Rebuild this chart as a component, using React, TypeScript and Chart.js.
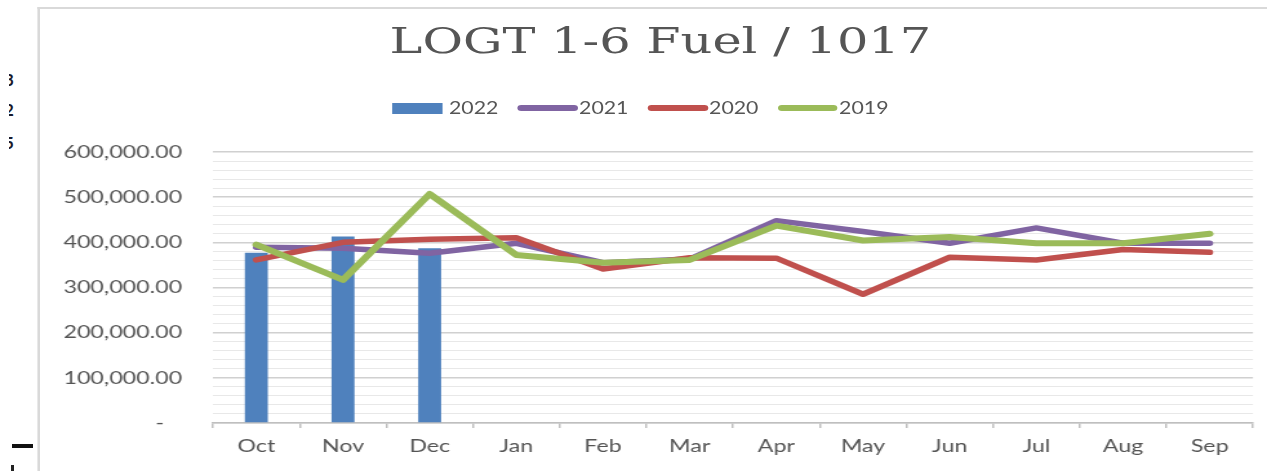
import React, { useEffect, useRef } from "react";
import { Chart, registerables } from "chart.js";

Chart.register(...registerables);

const months = ["Oct", "Nov", "Dec", "Jan", "Feb", "Mar", "Apr", "May", "Jun", "Jul", "Aug", "Sep"];
const fuel2022 = [377000, 413000, 387000, null, null, null, null, null, null, null, null, null];
const fuel2021 = [389000, 387000, 376000, 398000, 355000, 363000, 448000, 424000, 398000, 432000, 398000, 398000];
const fuel2020 = [361000, 400000, 407000, 410000, 341000, 366000, 365000, 285000, 367000, 361000, 384000, 378000];
const fuel2019 = [395000, 317000, 507000, 372000, 355000, 361000, 437000, 404000, 412000, 398000, 398000, 419000];
const seriesNames = ["2022", "2021", "2020", "2019"];
const yTickValues = [0, 100000, 200000, 300000, 400000, 500000, 600000];

const COLORS = { c2022: "#4f81bd", c2021: "#8064a2", c2020: "#c0504d", c2019: "#9bbb59" };
const W = 982;
const S = 1267 / W;
const FONT = "Lato, 'Open Sans', sans-serif";

function fmt(v: number) {
  return v.toLocaleString("en-US", { minimumFractionDigits: 2, maximumFractionDigits: 2 });
}

export default function App() {
  const ref = useRef<HTMLCanvasElement | null>(null);

  useEffect(() => {
    if (!ref.current) return;
    const lineBase = {
      type: "line",
      pointRadius: 0,
      tension: 0,
      borderCapStyle: "round",
      borderJoinStyle: "round",
    };
    const chart = new Chart(ref.current, {
      type: "bar",
      data: {
        labels: months,
        datasets: [
          {
            type: "bar",
            label: seriesNames[0],
            data: fuel2022 as any,
            backgroundColor: COLORS.c2022,
            barPercentage: 0.265,
            categoryPercentage: 1,
            order: 4,
          },
          {
            ...lineBase,
            label: seriesNames[1],
            data: fuel2021,
            borderColor: COLORS.c2021,
            backgroundColor: COLORS.c2021,
            borderWidth: 5.5,
            order: 3,
          },
          {
            ...lineBase,
            label: seriesNames[2],
            data: fuel2020,
            borderColor: COLORS.c2020,
            backgroundColor: COLORS.c2020,
            borderWidth: 5.5,
            order: 2,
          },
          {
            ...lineBase,
            label: seriesNames[3],
            data: fuel2019,
            borderColor: COLORS.c2019,
            backgroundColor: COLORS.c2019,
            borderWidth: 6,
            order: 1,
          },
        ] as any,
      },
      options: {
        responsive: false,
        animation: false,
        devicePixelRatio: 1,
        layout: { padding: { top: 152, right: W - 1253 / S, left: 0, bottom: 0 } },
        plugins: {
          legend: { display: false },
          title: { display: false },
          tooltip: { enabled: false },
        },
        scales: {
          x: {
            grid: {
              drawOnChartArea: false,
              drawTicks: true,
              tickLength: 5,
              color: "#bfbfbf",
              lineWidth: 1.5,
              offset: true,
            },
            border: { color: "#bfbfbf", width: 1.5 },
            ticks: {
              color: "#555555",
              font: { family: FONT, size: 18 },
              padding: 7,
              maxRotation: 0,
              autoSkip: false,
            },
            afterFit: (s: any) => {
              s.height = 48;
            },
          },
          y: {
            min: 0,
            max: 600000,
            grid: {
              drawTicks: false,
              color: (c: any) => (c.tick && c.tick.value % 100000 === 0 ? "#d0d0d0" : "#e8e8e8"),
              lineWidth: (c: any) => (c.tick && c.tick.value % 100000 === 0 ? 1.6 : 1),
            },
            border: { display: false },
            ticks: {
              stepSize: 20000,
              autoSkip: false,
              padding: 24,
              color: "#555555",
              font: { family: FONT, size: 18 },
              callback: (v: any) => {
                const n = Number(v);
                if (n === 0) return "-   ";
                return yTickValues.includes(n) ? fmt(n) : "";
              },
            },
            afterFit: (s: any) => {
              s.width = 213 / S;
            },
          },
        },
      } as any,
    });
    return () => chart.destroy();
  }, []);

  const legendItems = [
    { name: seriesNames[0], color: COLORS.c2022, kind: "bar" },
    { name: seriesNames[1], color: COLORS.c2021, kind: "line" },
    { name: seriesNames[2], color: COLORS.c2020, kind: "line" },
    { name: seriesNames[3], color: COLORS.c2019, kind: "line" },
  ];

  const fragStyle: React.CSSProperties = {
    position: "absolute",
    width: 6,
    height: 20,
    overflow: "hidden",
    fontFamily: FONT,
    fontWeight: 700,
    fontSize: 17,
    lineHeight: "20px",
    color: "#1a1a2a",
  };

  return (
    <div style={{ position: "absolute", left: 0, top: 0, width: 1267, height: 471, overflow: "hidden", background: "#fff" }}>
      {/* cropped artifacts on the left */}
      <div style={{ ...fragStyle, left: 9, top: 70 }}>
        <span style={{ position: "absolute", left: -5, top: 0 }}>3</span>
      </div>
      <div style={{ ...fragStyle, left: 9, top: 100 }}>
        <span style={{ position: "absolute", left: -5, top: 0 }}>2</span>
      </div>
      <div style={{ ...fragStyle, left: 9, top: 133 }}>
        <span style={{ position: "absolute", left: -5, top: 0 }}>5</span>
      </div>
      <div style={{ position: "absolute", left: 12, top: 444, width: 21, height: 4, background: "#111" }} />
      <div style={{ position: "absolute", left: 11, top: 465, width: 3, height: 6, background: "#222" }} />
      <div
        style={{
          position: "absolute",
          left: 0,
          top: 0,
          width: W,
          height: 471,
          transform: `scaleX(${S})`,
          transformOrigin: "0 0",
        }}
      >
        <div
          style={{
            position: "absolute",
            left: 37 / S,
            top: 7,
            width: 2000,
            height: 600,
            borderLeft: "2px solid #d9d9d9",
            borderTop: "2px solid #d9d9d9",
          }}
        />
        <canvas ref={ref} width={W} height={471} style={{ position: "absolute", left: 0, top: 0, width: W, height: 471 }} />
        <div
          style={{
            position: "absolute",
            left: 660 / S - 400,
            width: 800,
            top: 21,
            textAlign: "center",
            fontFamily: "'DejaVu Serif', serif",
            fontSize: 35,
            lineHeight: "40px",
            color: "#555555",
            whiteSpace: "nowrap",
          }}
        >
          <span style={{ display: "inline-block", transform: "scaleX(1.094)" }}>LOGT 1-6 Fuel / 1017</span>
        </div>
        <div
          style={{
            position: "absolute",
            left: 392 / S,
            top: 98,
            height: 20,
            display: "flex",
            alignItems: "center",
            fontFamily: FONT,
            fontSize: 16.5,
            color: "#555555",
            whiteSpace: "nowrap",
          }}
        >
          {legendItems.map((it) => (
            <div key={it.name} style={{ display: "flex", alignItems: "center", marginRight: 15 }}>
              {it.kind === "bar" ? (
                <div style={{ width: 39.5, height: 11, background: it.color, marginRight: 4.7 }} />
              ) : (
                <div style={{ width: 46.5, height: 6, borderRadius: 3, background: it.color, marginRight: 1 }} />
              )}
              <span>{it.name}</span>
            </div>
          ))}
        </div>
      </div>
    </div>
  );
}
